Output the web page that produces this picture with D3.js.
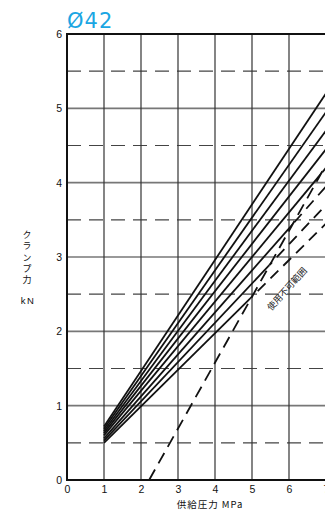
<!DOCTYPE html>
<html>
<head>
<meta charset="utf-8">
<script src="https://cdn.jsdelivr.net/npm/d3@7"></script>
<style>
  body { margin: 0; background: #fff; }
  svg { display: block; }
</style>
</head>
<body>
<div id="chart"></div>
<script>
// chart values
var xTicks = [0, 1, 2, 3, 4, 5, 6, 7];
var yTicks = [0, 1, 2, 3, 4, 5, 6];
var yHalf = [0.5, 1.5, 2.5, 3.5, 4.5, 5.5];

// supply pressure (MPa) at the two ends of each clamp force line
var pressure = [1, 7];
// clamp force (kN) at pressure 1 and 7, one entry per line
var forceAt1 = [0.72, 0.69, 0.66, 0.63, 0.60, 0.56, 0.53, 0.50];
var forceAt7 = [5.20, 4.95, 4.70, 4.45, 4.20, 3.95, 3.70, 3.45];

// limit of the usable range (dashed boundary)
var limitP = [2.22, 7];
var limitF = [0, 4.24];

var width = 325, height = 515;

var svg = d3.select('#chart').append('svg')
  .attr('width', width)
  .attr('height', height);

var x = d3.scaleLinear().domain([0, 7]).range([67, 326]);
var y = d3.scaleLinear().domain([0, 6]).range([480, 34]);

// title
svg.append('text')
  .attr('x', 67)
  .attr('y', 28)
  .style('font-family', '"DejaVu Sans", sans-serif')
  .style('font-size', '21px')
  .style('letter-spacing', '1px')
  .style('fill', '#1aa6e3')
  .text('Ø42');

// grid
var grid = svg.append('g');

grid.selectAll('.hhalf')
  .data(yHalf)
  .enter()
  .append('line')
  .attr('x1', x(0)).attr('x2', width)
  .attr('y1', function(d){ return y(d); })
  .attr('y2', function(d){ return y(d); })
  .style('stroke', '#444')
  .style('stroke-width', 1.2)
  .style('stroke-dasharray', '14,8');

grid.selectAll('.hint')
  .data(yTicks.filter(function(d){ return d > 0 && d < 6; }))
  .enter()
  .append('line')
  .attr('x1', x(0)).attr('x2', width)
  .attr('y1', function(d){ return y(d); })
  .attr('y2', function(d){ return y(d); })
  .style('stroke', '#777')
  .style('stroke-width', 1.6);

grid.selectAll('.vint')
  .data(xTicks.filter(function(d){ return d > 0; }))
  .enter()
  .append('line')
  .attr('x1', function(d){ return x(d); })
  .attr('x2', function(d){ return x(d); })
  .attr('y1', y(6)).attr('y2', y(0))
  .style('stroke', '#333')
  .style('stroke-width', 1.2);

// clip regions either side of the limit line
var defs = svg.append('defs');
defs.append('clipPath').attr('id', 'ok')
  .append('polygon')
  .attr('points', [
    [x(0), y(0)], [x(limitP[0]), y(limitF[0])], [x(limitP[1]), y(limitF[1])],
    [x(limitP[1]), y(6)], [x(0), y(6)]
  ].join(' '));
defs.append('clipPath').attr('id', 'ng')
  .append('polygon')
  .attr('points', [
    [x(limitP[0]), y(limitF[0])], [x(limitP[1]), y(0)], [x(limitP[1]), y(limitF[1])]
  ].join(' '));

var line = d3.line()
  .x(function(d){ return x(d[0]); })
  .y(function(d){ return y(d[1]); });

var series = forceAt1.map(function(f, i){
  return [[pressure[0], f], [pressure[1], forceAt7[i]]];
});

svg.append('g').attr('clip-path', 'url(#ok)')
  .selectAll('path')
  .data(series)
  .enter()
  .append('path')
  .attr('d', line)
  .style('fill', 'none')
  .style('stroke', '#111')
  .style('stroke-width', 1.8);

svg.append('g').attr('clip-path', 'url(#ng)')
  .selectAll('path')
  .data(series)
  .enter()
  .append('path')
  .attr('d', line)
  .style('fill', 'none')
  .style('stroke', '#111')
  .style('stroke-width', 1.8)
  .style('stroke-dasharray', '11,7');

// limit line
svg.append('path')
  .datum(limitP.map(function(p, i){ return [p, limitF[i]]; }))
  .attr('d', line)
  .style('fill', 'none')
  .style('stroke', '#111')
  .style('stroke-width', 1.8)
  .style('stroke-dasharray', '12,7');

svg.append('text')
  .attr('transform', 'translate(287,289) rotate(-48)')
  .attr('text-anchor', 'middle')
  .attr('dy', '0.35em')
  .style('font-family', '"Noto Sans CJK JP", sans-serif')
  .style('font-size', '9px')
  .style('fill', '#222')
  .text('使用不可範囲');

// frame
svg.append('line')
  .attr('x1', x(0)).attr('x2', width)
  .attr('y1', y(6)).attr('y2', y(6))
  .style('stroke', '#111').style('stroke-width', 1.8);
svg.append('line')
  .attr('x1', x(0)).attr('x2', width)
  .attr('y1', y(0)).attr('y2', y(0))
  .style('stroke', '#111').style('stroke-width', 2.2);
svg.append('line')
  .attr('x1', x(0)).attr('x2', x(0))
  .attr('y1', y(6) - 1).attr('y2', y(0) + 1)
  .style('stroke', '#111').style('stroke-width', 2);

// axes labels
var xAxis = svg.append('g')
  .attr('transform', 'translate(0,' + y(0) + ')')
  .call(d3.axisBottom(x).tickValues(xTicks).tickFormat(d3.format('d'))
    .tickSize(0).tickPadding(6));
var yAxis = svg.append('g')
  .attr('transform', 'translate(' + (x(0) - 4) + ',0)')
  .call(d3.axisLeft(y).tickValues(yTicks).tickFormat(d3.format('d'))
    .tickSize(0).tickPadding(1));

[xAxis, yAxis].forEach(function(a){
  a.select('.domain').remove();
  a.selectAll('text')
    .style('font-family', '"Liberation Sans", Arial, sans-serif')
    .style('font-size', '10.5px')
    .style('fill', '#111');
});

svg.append('text')
  .attr('x', 210)
  .attr('y', 508)
  .attr('text-anchor', 'middle')
  .style('font-family', '"Noto Sans CJK JP", sans-serif')
  .style('font-size', '9.5px')
  .style('letter-spacing', '1px')
  .style('fill', '#111')
  .text('供給圧力 MPa');

// vertical y title
svg.append('text')
  .attr('x', 27)
  .attr('y', 230)
  .style('writing-mode', 'vertical-rl')
  .style('text-orientation', 'upright')
  .style('font-family', '"Noto Sans CJK JP", sans-serif')
  .style('font-size', '9px')
  .style('letter-spacing', '2.3px')
  .style('fill', '#111')
  .text('クランプ力');

svg.append('text')
  .attr('x', 28)
  .attr('y', 304)
  .attr('text-anchor', 'middle')
  .style('font-family', '"Liberation Sans", Arial, sans-serif')
  .style('font-size', '9.5px')
  .style('letter-spacing', '1.5px')
  .style('fill', '#111')
  .text('kN');
</script>
</body>
</html>
